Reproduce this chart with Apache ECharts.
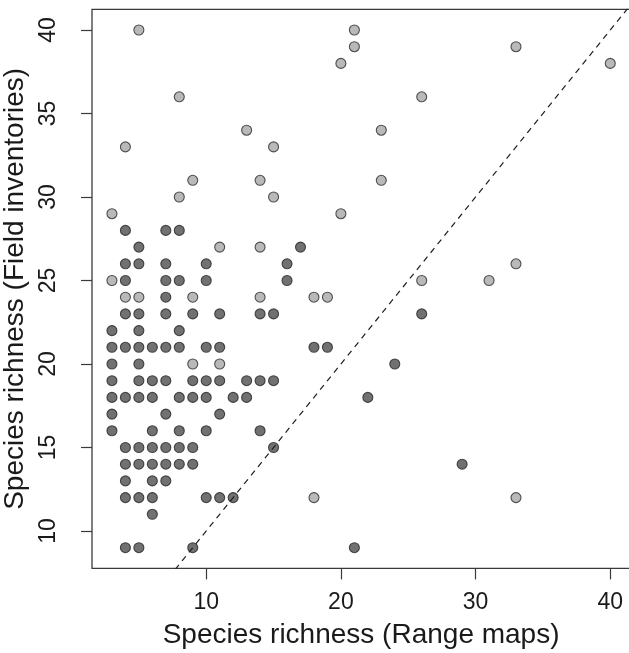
<!DOCTYPE html>
<html>
<head>
<meta charset="utf-8">
<script src="https://cdn.jsdelivr.net/npm/echarts@6/dist/echarts.min.js"></script>
<style>
html,body{margin:0;padding:0;background:#fff;}
#chart{width:629px;height:653px;}
</style>
</head>
<body>
<div id="chart"></div>
<script>
// Sites where range maps and field inventories differ (dark) / other sites (light)
const darkPoints = [
  [4,28],[7,28],[8,28],
  [5,27],[17,27],
  [4,26],[5,26],[7,26],[10,26],[16,26],
  [4,25],[7,25],[8,25],[10,25],[16,25],
  [7,24],
  [4,23],[5,23],[7,23],[9,23],[11,23],[14,23],[15,23],[26,23],
  [3,22],[5,22],[8,22],
  [3,21],[4,21],[5,21],[6,21],[7,21],[8,21],[10,21],[11,21],[18,21],[19,21],
  [3,20],[5,20],[24,20],
  [3,19],[5,19],[6,19],[7,19],[9,19],[10,19],[11,19],[13,19],[14,19],[15,19],
  [3,18],[4,18],[5,18],[6,18],[8,18],[9,18],[10,18],[12,18],[13,18],[22,18],
  [3,17],[7,17],[11,17],
  [3,16],[6,16],[8,16],[10,16],[14,16],
  [4,15],[5,15],[6,15],[7,15],[8,15],[9,15],[15,15],
  [4,14],[5,14],[6,14],[7,14],[8,14],[9,14],[29,14],
  [4,13],[6,13],[7,13],
  [4,12],[5,12],[6,12],[10,12],[11,12],[12,12],
  [6,11],
  [4,9],[5,9],[9,9],[21,9]
];
const lightPoints = [
  [5,40],[21,40],[21,39],[33,39],[20,38],[40,38],
  [8,36],[26,36],[13,34],[23,34],[4,33],[15,33],
  [9,31],[14,31],[23,31],[8,30],[15,30],[3,29],[20,29],
  [11,27],[14,27],[33,26],[3,25],[26,25],[31,25],
  [4,24],[5,24],[9,24],[14,24],[18,24],[19,24],
  [9,20],[11,20],[18,12],[33,12]
];
const xTicks = [10, 20, 30, 40];
const yTicks = [10, 15, 20, 25, 30, 35, 40];
const xRange = [1.52, 41.48];
const yRange = [7.76, 41.24];
const identityLine = [[0, 0], [50, 50]];

const font = '"Liberation Sans", Arial, sans-serif';
const chart = echarts.init(document.getElementById('chart'), null, {renderer: 'canvas'});
chart.setOption({
  animation: false,
  backgroundColor: '#ffffff',
  grid: {
    left: 92, top: 9.3, width: 538.2, height: 559.1,
    outerBoundsMode: 'none', containLabel: false,
    show: true, borderColor: '#3a3a3a', borderWidth: 1.3, backgroundColor: 'transparent'
  },
  xAxis: {
    type: 'value', min: xRange[0], max: xRange[1],
    name: 'Species richness (Range maps)', nameLocation: 'middle', nameGap: 53,
    nameTextStyle: {fontFamily: font, fontSize: 28, color: '#1a1a1a'},
    axisLine: {show: false},
    axisTick: {show: true, length: 11, inside: false, customValues: xTicks, lineStyle: {color: '#3a3a3a', width: 1.2}},
    axisLabel: {show: true, customValues: xTicks, margin: 23, fontFamily: font, fontSize: 23, color: '#1a1a1a'},
    splitLine: {show: false}
  },
  yAxis: {
    type: 'value', min: yRange[0], max: yRange[1],
    name: 'Species richness (Field inventories)', nameLocation: 'middle', nameGap: 58, nameRotate: 90,
    nameTextStyle: {fontFamily: font, fontSize: 28, color: '#1a1a1a'},
    axisLine: {show: false},
    axisTick: {show: true, length: 11, inside: false, customValues: yTicks, lineStyle: {color: '#3a3a3a', width: 1.2}},
    axisLabel: {show: true, customValues: yTicks, rotate: 90, margin: 32, fontFamily: font, fontSize: 23, color: '#1a1a1a'},
    splitLine: {show: false}
  },
  series: [
    {
      type: 'scatter', data: lightPoints, symbol: 'circle', symbolSize: 10,
      itemStyle: {color: '#a9a7a7', borderColor: '#2a2a2a', borderWidth: 1.1},
      z: 2
    },
    {
      type: 'scatter', data: darkPoints, symbol: 'circle', symbolSize: 10,
      itemStyle: {color: '#4e4e4e', borderColor: '#262626', borderWidth: 1.1},
      z: 2
    },
    {
      type: 'line', data: identityLine, symbol: 'none', clip: true,
      lineStyle: {color: '#1e1e1e', width: 1.2, type: [6, 5]},
      z: 3
    }
  ]
});
</script>
</body>
</html>
